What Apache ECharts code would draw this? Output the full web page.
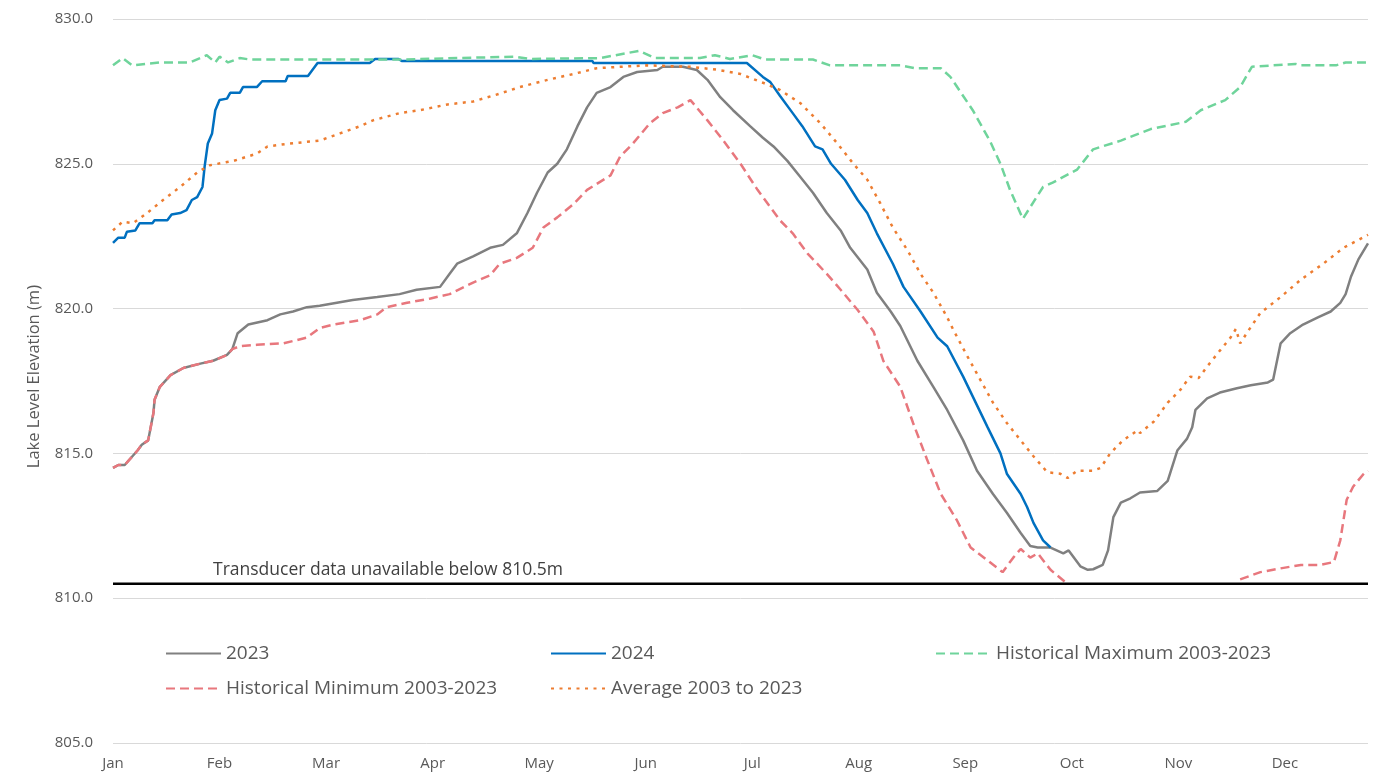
<!DOCTYPE html>
<html>
<head>
<meta charset="utf-8">
<title>Lake Level Elevation</title>
<script src="https://cdn.jsdelivr.net/npm/echarts@6/dist/echarts.min.js"></script>
<style>
html, body { margin: 0; padding: 0; background: #fff; }
#myChart { width: 1379px; height: 782px; }
</style>
</head>
<body>
<div id="myChart"></div>
<script>
// month labels, x values are in months from Jan 1
var months = ['Jan', 'Feb', 'Mar', 'Apr', 'May', 'Jun', 'Jul', 'Aug', 'Sep', 'Oct', 'Nov', 'Dec']

var data2023 = [
  [0, 814.5], [0.05, 814.6], [0.11, 814.6], [0.23, 815.1], [0.27, 815.3], [0.33, 815.45],
  [0.38, 816.4], [0.39, 816.85], [0.44, 817.3], [0.54, 817.7], [0.66, 817.95], [0.82, 818.1],
  [0.94, 818.2], [1.07, 818.4], [1.12, 818.6], [1.17, 819.15], [1.27, 819.45], [1.45, 819.6],
  [1.57, 819.8], [1.69, 819.9], [1.82, 820.05], [1.94, 820.1], [2.25, 820.3], [2.48, 820.4],
  [2.69, 820.5], [2.85, 820.65], [3.07, 820.75], [3.16, 821.2], [3.23, 821.55], [3.38, 821.8],
  [3.54, 822.1], [3.66, 822.2], [3.79, 822.6], [3.89, 823.3], [3.98, 824.0], [4.08, 824.7],
  [4.17, 825.0], [4.26, 825.5], [4.36, 826.3], [4.45, 826.95], [4.54, 827.45], [4.67, 827.65],
  [4.79, 828.0], [4.92, 828.17], [5.11, 828.24], [5.16, 828.35], [5.35, 828.35], [5.48, 828.24],
  [5.58, 827.9], [5.70, 827.3], [5.82, 826.85], [5.98, 826.3], [6.10, 825.9], [6.20, 825.6],
  [6.33, 825.1], [6.45, 824.55], [6.57, 824.0], [6.70, 823.3], [6.83, 822.7], [6.92, 822.1],
  [7.08, 821.35], [7.17, 820.55], [7.30, 819.9], [7.39, 819.4], [7.55, 818.2], [7.70, 817.3],
  [7.83, 816.5], [7.98, 815.45], [8.11, 814.4], [8.26, 813.6], [8.39, 812.95], [8.52, 812.25],
  [8.61, 811.8], [8.68, 811.75], [8.80, 811.75], [8.92, 811.55], [8.97, 811.65], [9.08, 811.1],
  [9.15, 810.98], [9.20, 811.0], [9.29, 811.15], [9.34, 811.65], [9.39, 812.8], [9.46, 813.3],
  [9.55, 813.45], [9.64, 813.65], [9.80, 813.7], [9.90, 814.05], [9.99, 815.1], [10.08, 815.5],
  [10.13, 815.9], [10.16, 816.5], [10.27, 816.9], [10.39, 817.1], [10.55, 817.25], [10.68, 817.35],
  [10.84, 817.45], [10.89, 817.55], [10.96, 818.8], [11.05, 819.15], [11.17, 819.45], [11.31, 819.7],
  [11.43, 819.9], [11.52, 820.2], [11.57, 820.5], [11.62, 821.1], [11.69, 821.7], [11.78, 822.25]
]

var data2024 = [
  [0, 822.27], [0.05, 822.45], [0.11, 822.45], [0.13, 822.65], [0.21, 822.7], [0.25, 822.95],
  [0.37, 822.95], [0.39, 823.05], [0.51, 823.05], [0.55, 823.25], [0.63, 823.3], [0.69, 823.4],
  [0.74, 823.75], [0.79, 823.85], [0.84, 824.2], [0.86, 824.9], [0.89, 825.7], [0.93, 826.05],
  [0.96, 826.85], [1.00, 827.2], [1.07, 827.25], [1.10, 827.45], [1.19, 827.45], [1.22, 827.65],
  [1.35, 827.65], [1.40, 827.85], [1.62, 827.85], [1.64, 828.03], [1.83, 828.03], [1.92, 828.48],
  [2.41, 828.48], [2.46, 828.62], [2.68, 828.62], [2.71, 828.55], [4.50, 828.55], [4.51, 828.48],
  [5.95, 828.48], [6.10, 828.0], [6.17, 827.82], [6.26, 827.35], [6.38, 826.75], [6.47, 826.3],
  [6.59, 825.6], [6.66, 825.5], [6.74, 825.0], [6.87, 824.45], [6.99, 823.75], [7.08, 823.3],
  [7.17, 822.6], [7.32, 821.55], [7.42, 820.75], [7.58, 819.9], [7.74, 819.0], [7.83, 818.7],
  [7.98, 817.65], [8.21, 815.9], [8.33, 815.0], [8.39, 814.3], [8.52, 813.6], [8.58, 813.15],
  [8.64, 812.6], [8.73, 812.0], [8.80, 811.75]
]

var histMax = [
  [0, 828.4], [0.09, 828.65], [0.18, 828.4], [0.44, 828.5], [0.72, 828.5], [0.88, 828.75],
  [0.96, 828.5], [1.00, 828.7], [1.08, 828.5], [1.19, 828.65], [1.29, 828.6], [2.69, 828.6],
  [3.77, 828.7], [3.92, 828.62], [4.57, 828.65], [4.94, 828.9], [5.09, 828.65], [5.51, 828.65],
  [5.65, 828.75], [5.79, 828.62], [6.00, 828.75], [6.12, 828.6], [6.57, 828.6], [6.73, 828.4],
  [7.39, 828.4], [7.53, 828.3], [7.77, 828.3], [7.86, 828.0], [8.07, 826.85], [8.23, 825.8],
  [8.33, 825.0], [8.42, 824.1], [8.54, 823.1], [8.73, 824.2], [8.82, 824.35], [9.05, 824.8],
  [9.20, 825.5], [9.46, 825.8], [9.74, 826.2], [10.07, 826.45], [10.21, 826.85], [10.44, 827.2],
  [10.58, 827.65], [10.69, 828.35], [11.10, 828.45], [11.15, 828.4], [11.48, 828.4], [11.57, 828.5],
  [11.78, 828.5]
]

var histMin = [
  [0, 814.5], [0.05, 814.6], [0.11, 814.6], [0.23, 815.1], [0.27, 815.3], [0.33, 815.45],
  [0.38, 816.4], [0.39, 816.85], [0.44, 817.3], [0.54, 817.7], [0.66, 817.95], [0.82, 818.1],
  [0.94, 818.2], [1.07, 818.4], [1.12, 818.6], [1.19, 818.7], [1.35, 818.75], [1.60, 818.8],
  [1.82, 819.0], [1.94, 819.33], [2.07, 819.45], [2.32, 819.6], [2.48, 819.8], [2.57, 820.05],
  [2.76, 820.2], [2.98, 820.35], [3.16, 820.5], [3.38, 820.9], [3.54, 821.15], [3.63, 821.55],
  [3.79, 821.75], [3.94, 822.1], [4.04, 822.8], [4.17, 823.15], [4.32, 823.6], [4.45, 824.1],
  [4.67, 824.6], [4.76, 825.25], [4.88, 825.7], [5.04, 826.4], [5.16, 826.75], [5.30, 826.95],
  [5.42, 827.2], [5.58, 826.5], [5.73, 825.8], [5.89, 825.0], [6.05, 824.1], [6.26, 823.05],
  [6.38, 822.6], [6.52, 821.9], [6.70, 821.2], [6.83, 820.65], [6.99, 819.95], [7.14, 819.2],
  [7.23, 818.2], [7.39, 817.3], [7.51, 816.05], [7.64, 814.8], [7.77, 813.6], [7.92, 812.7],
  [8.05, 811.75], [8.21, 811.3], [8.35, 810.9], [8.45, 811.4], [8.52, 811.7], [8.61, 811.4],
  [8.68, 811.55], [8.80, 810.98], [8.94, 810.55], [9.5, '-'],
  [10.58, 810.65], [10.77, 810.9], [10.96, 811.03], [11.15, 811.15], [11.33, 811.15], [11.46, 811.25],
  [11.52, 812.0], [11.58, 813.4], [11.64, 813.85], [11.74, 814.3], [11.78, 814.4]
]

var average = [
  [0, 822.7], [0.09, 823.0], [0.19, 822.95], [0.32, 823.3], [0.47, 823.75], [0.63, 824.2],
  [0.79, 824.7], [0.91, 824.95], [1.13, 825.1], [1.35, 825.35], [1.45, 825.6], [1.66, 825.7],
  [1.94, 825.8], [2.13, 826.05], [2.32, 826.3], [2.44, 826.5], [2.69, 826.75], [2.88, 826.85],
  [3.14, 827.05], [3.38, 827.15], [3.61, 827.4], [3.82, 827.65], [4.08, 827.9], [4.32, 828.1],
  [4.54, 828.3], [4.76, 828.35], [5.01, 828.4], [5.42, 828.35], [5.67, 828.25], [5.89, 828.1],
  [6.10, 827.8], [6.26, 827.55], [6.45, 827.1], [6.64, 826.4], [6.80, 825.7], [6.95, 825.0],
  [7.08, 824.45], [7.20, 823.65], [7.32, 822.8], [7.46, 822.0], [7.58, 821.2], [7.70, 820.55],
  [7.83, 819.7], [7.89, 819.25], [8.02, 818.35], [8.14, 817.55], [8.26, 816.75], [8.39, 816.05],
  [8.52, 815.45], [8.64, 814.9], [8.77, 814.35], [8.89, 814.3], [8.96, 814.15], [9.05, 814.4],
  [9.20, 814.4], [9.27, 814.5], [9.36, 815.0], [9.48, 815.45], [9.62, 815.8], [9.64, 815.7],
  [9.77, 816.1], [9.90, 816.75], [10.02, 817.2], [10.11, 817.65], [10.19, 817.6], [10.27, 818.0],
  [10.39, 818.55], [10.49, 819.0], [10.54, 819.3], [10.58, 818.8], [10.65, 819.2], [10.77, 819.85],
  [10.96, 820.4], [11.15, 821.0], [11.36, 821.55], [11.55, 822.1], [11.73, 822.45], [11.78, 822.55]
]

var transducerLimit = 810.5
var xEnd = 11.78

var fontName = "'Open Sans', 'Noto Sans', sans-serif"
var textColor = '#595959'

function legendAt (name, left, top) {
  return {
    data: [name],
    left: left,
    top: top,
    itemWidth: 55,
    itemHeight: 14,
    itemGap: 6,
    itemStyle: { opacity: 0 }, // hide the circle, keep only the line
    textStyle: { fontFamily: fontName, fontSize: 19, color: textColor }
  }
}

function lineSeries (name, data, color, type) {
  return {
    name: name,
    type: 'line',
    data: data,
    symbol: 'none',
    connectNulls: false,
    animation: false,
    lineStyle: { color: color, width: 2.5, type: type },
    itemStyle: { color: color }
  }
}

var myChart = echarts.init(document.getElementById('myChart'))
myChart.setOption({
  backgroundColor: '#fff',
  animation: false,
  grid: { left: 113, right: 11, top: 19, bottom: 39, containLabel: false },
  legend: [
    legendAt('2023', 160, 639),
    legendAt('2024', 545, 639),
    legendAt('Historical Maximum 2003-2023', 930, 639),
    legendAt('Historical Minimum 2003-2023', 160, 674),
    legendAt('Average 2003 to 2023', 545, 674)
  ],
  xAxis: {
    type: 'value',
    min: 0,
    max: xEnd,
    interval: 1,
    axisLine: { show: false },
    axisTick: { show: false },
    splitLine: { show: false },
    axisLabel: {
      showMaxLabel: false,
      margin: 13,
      fontFamily: fontName,
      fontSize: 15,
      color: textColor,
      formatter: function (v) {
        var i = Math.round(v)
        return (months[i] !== undefined && Math.abs(v - i) < 0.001) ? months[i] : ''
      }
    }
  },
  yAxis: {
    type: 'value',
    min: 805,
    max: 830,
    interval: 5,
    axisLine: { show: false },
    axisTick: { show: false },
    splitLine: { lineStyle: { color: '#d9d9d9', width: 1 } },
    axisLabel: {
      margin: 20,
      fontFamily: fontName,
      fontSize: 15,
      color: textColor,
      formatter: function (v) { return v.toFixed(1) }
    }
  },
  graphic: [
    {
      type: 'text',
      left: 26,
      top: 285,
      rotation: Math.PI / 2,
      style: {
        text: 'Lake Level Elevation (m)',
        fontFamily: fontName,
        fontSize: 16.5,
        fill: textColor
      }
    },
    {
      type: 'text',
      left: 213,
      top: 561,
      style: {
        text: 'Transducer data unavailable below 810.5m',
        fontFamily: fontName,
        fontSize: 17.5,
        fill: '#404040'
      }
    }
  ],
  series: [
    lineSeries('2023', data2023, '#808080', 'solid'),
    lineSeries('2024', data2024, '#0070c0', 'solid'),
    lineSeries('Historical Maximum 2003-2023', histMax, '#6fd49b', [9, 5]),
    lineSeries('Historical Minimum 2003-2023', histMin, '#e8777d', [9, 5]),
    lineSeries('Average 2003 to 2023', average, '#ed7d31', [3, 5.5]),
    {
      name: 'limit',
      type: 'line',
      data: [[0, transducerLimit], [xEnd, transducerLimit]],
      symbol: 'none',
      silent: true,
      lineStyle: { color: '#000', width: 2.5 }
    }
  ]
})
window.addEventListener('resize', function () {
  myChart.resize()
})
</script>
</body>
</html>
